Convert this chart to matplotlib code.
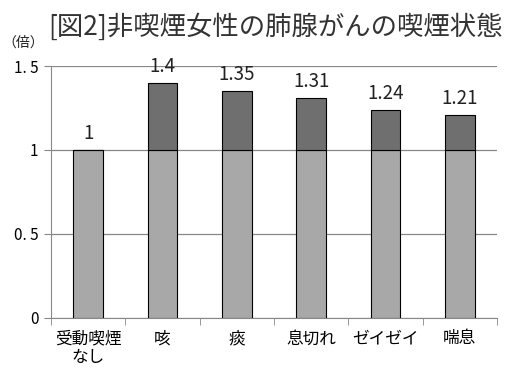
import matplotlib
matplotlib.use("Agg")
import matplotlib.pyplot as plt
import numpy as np

plt.rcParams['font.family'] = ['Noto Sans CJK JP', 'DejaVu Sans']

# data
categories = ["受動喫煙\nなし", "咳", "痰", "息切れ", "ゼイゼイ", "喘息"]
values = [1, 1.4, 1.35, 1.31, 1.24, 1.21]
value_labels = ["1", "1.4", "1.35", "1.31", "1.24", "1.21"]
yticks = [0, 0.5, 1, 1.5]
ytick_labels = ["0", "0. 5", "1", "1. 5"]

fig = plt.figure(figsize=(5.25, 3.71), dpi=100)
ax = fig.add_axes([0.0971, 0.1429, 0.8496, 0.6792])

x = np.arange(len(categories))
base = [min(v, 1) for v in values]
extra = [max(v - 1, 0) for v in values]

ax.bar(x, base, width=0.4, color='#a8a8a8', edgecolor='black', linewidth=0.8, zorder=3)
ax.bar(x, extra, width=0.4, bottom=1, color='#6f6f6f', edgecolor='black', linewidth=0.8, zorder=3)

for xi, v, lab in zip(x, values, value_labels):
    ax.text(xi, v + 0.035, lab, ha='center', va='bottom', fontsize=13.5, color='#222222',
            clip_on=False)

ax.set_xlim(-0.5, len(categories) - 0.5)
ax.set_ylim(0, 1.5)
ax.set_yticks(yticks)
ax.set_yticklabels(ytick_labels, fontsize=11)
ax.yaxis.grid(True, color='#888888', linewidth=0.9, zorder=0)

ax.set_xticks(x)
ax.set_xticklabels(categories, fontsize=12, linespacing=1.15)
ax.set_xticks(np.arange(len(categories) + 1) - 0.5, minor=True)
ax.tick_params(axis='x', which='major', length=0, pad=9)
ax.tick_params(axis='x', which='minor', length=5, color='#888888')
ax.tick_params(axis='y', length=5, color='#888888', pad=4)

for s in ['top', 'right']:
    ax.spines[s].set_visible(False)
ax.spines['left'].set_color('#888888')
ax.spines['bottom'].set_color('#888888')

fig.text(0.525, 0.928, "[図2]非喫煙女性の肺腺がんの喫煙状態", ha='center', va='center',
         fontsize=19, color='#333333')
fig.text(0.045, 0.885, "（倍）", ha='center', va='center', fontsize=10, color='#222222')

fig.savefig("out.png", dpi=100)
